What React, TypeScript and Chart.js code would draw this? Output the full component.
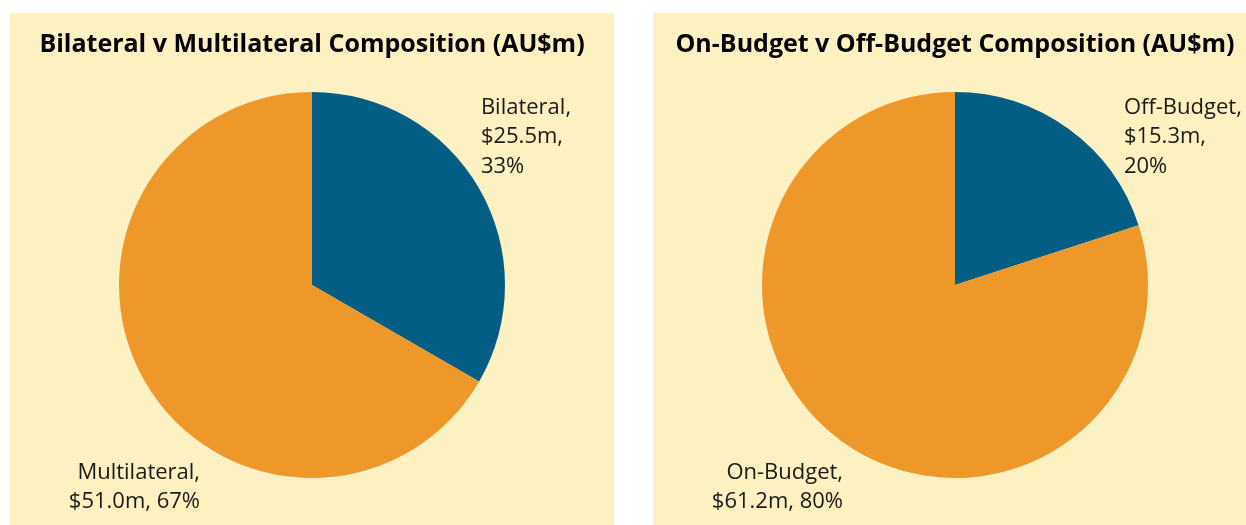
import React, { useEffect, useRef } from "react";
import { Chart, registerables } from "chart.js";

Chart.register(...registerables);

// ---- Data ----
const leftTitle = "Bilateral v Multilateral Composition (AU$m)";
const leftCategories = ["Bilateral", "Multilateral"];
const leftValues = [25.5, 51.0];
const leftPercents = [33, 67];

const rightTitle = "On-Budget v Off-Budget Composition (AU$m)";
const rightCategories = ["Off-Budget", "On-Budget"];
const rightValues = [15.3, 61.2];
const rightPercents = [20, 80];

const sliceColors = ["#025E84", "#EE982A"];
const panelBg = "#FDF0C1";

const PANEL_W = 604;
const PANEL_H = 512;

// label lines: first slice split in three lines, second slice in two
function makeLines(cats: string[], vals: number[], pcts: number[]): string[][] {
  return [
    [`${cats[0]},`, `$${vals[0].toFixed(1)}m,`, `${pcts[0]}%`],
    [`${cats[1]},`, `$${vals[1].toFixed(1)}m, ${pcts[1]}%`],
  ];
}

const panelTextPlugin = {
  id: "panelText",
  beforeDraw(chart: any) {
    const ctx = chart.ctx;
    ctx.save();
    ctx.fillStyle = panelBg;
    ctx.fillRect(0, 0, chart.width, chart.height);
    ctx.restore();
  },
  afterDraw(chart: any, _args: any, opts: any) {
    const ctx = chart.ctx;
    const arc = chart.getDatasetMeta(0).data[0];
    if (!arc) return;
    const cx = arc.x;
    const cy = arc.y;
    const r = arc.outerRadius;
    ctx.save();
    // title
    ctx.fillStyle = "#000000";
    ctx.font = "bold 25px 'Open Sans'";
    ctx.textAlign = "center";
    ctx.textBaseline = "alphabetic";
    ctx.fillText(opts.title, cx, 39);
    // slice labels
    ctx.fillStyle = "#1a1a1a";
    ctx.font = "22px 'Open Sans'";
    const lines: string[][] = opts.lines;
    // first slice: left aligned to upper right
    ctx.textAlign = "left";
    lines[0].forEach((t, i) => {
      ctx.fillText(t, cx + 0.875 * r, cy - 0.885 * r + i * 29.3);
    });
    // second slice: right aligned at lower left
    ctx.textAlign = "right";
    lines[1].forEach((t, i) => {
      ctx.fillText(t, cx - 0.58 * r, cy + 1.005 * r + i * 29.3);
    });
    ctx.restore();
  },
};

function PiePanel(props: {
  title: string;
  cats: string[];
  vals: number[];
  pcts: number[];
  left: number;
}) {
  const ref = useRef<HTMLCanvasElement | null>(null);
  useEffect(() => {
    if (!ref.current) return;
    const chart = new Chart(ref.current, {
      type: "pie",
      data: {
        labels: props.cats,
        datasets: [
          {
            data: props.vals,
            backgroundColor: sliceColors,
            borderWidth: 0,
          },
        ],
      },
      options: {
        responsive: false,
        animation: false,
        layout: {
          padding: { left: 109, right: 109, top: 79, bottom: 47 },
        },
        plugins: {
          legend: { display: false },
          tooltip: { enabled: false },
          title: { display: false },
          panelText: {
            title: props.title,
            lines: makeLines(props.cats, props.vals, props.pcts),
          },
        } as any,
      },
      plugins: [panelTextPlugin],
    });
    return () => chart.destroy();
  }, []);
  return (
    <div
      style={{
        position: "absolute",
        left: props.left,
        top: 13,
        width: PANEL_W,
        height: PANEL_H,
        background: panelBg,
      }}
    >
      <canvas ref={ref} width={PANEL_W} height={PANEL_H} style={{ display: "block" }} />
    </div>
  );
}

export default function App() {
  return (
    <div
      style={{
        position: "fixed",
        left: 0,
        top: 0,
        width: 1246,
        height: 525,
        overflow: "hidden",
        background: "#ffffff",
      }}
    >
      <PiePanel title={leftTitle} cats={leftCategories} vals={leftValues} pcts={leftPercents} left={10} />
      <PiePanel title={rightTitle} cats={rightCategories} vals={rightValues} pcts={rightPercents} left={653} />
    </div>
  );
}
